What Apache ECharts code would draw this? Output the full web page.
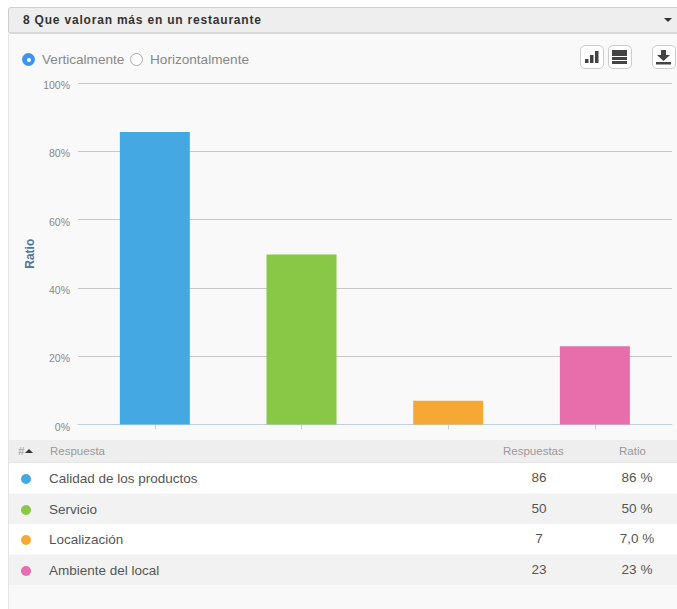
<!DOCTYPE html>
<html><head><meta charset="utf-8">
<script src="https://cdn.jsdelivr.net/npm/echarts@6/dist/echarts.min.js"></script>
<style>
html,body{margin:0;padding:0;background:#fff;width:677px;height:609px;overflow:hidden;font-family:"Liberation Sans",Arial,sans-serif}
.abs{position:absolute;white-space:nowrap}
#panel{left:8px;top:34px;width:669px;height:575px;background:#f9f9f9;border-left:1px solid #e4e4e4;box-sizing:border-box}
#head{left:8px;top:7px;width:680px;height:27px;background:#eeeeee;border:1px solid #cfcfcf;border-bottom:2px solid #d8d8d8;border-radius:3px;box-sizing:border-box}
#title{left:23px;top:13px;font-size:12px;font-weight:bold;color:#333;letter-spacing:.8px;line-height:15px}
#caret{left:664px;top:18px;width:0;height:0;border-left:4px solid transparent;border-right:4px solid transparent;border-top:4px solid #333}
.radio{width:13px;height:13px;border-radius:50%;box-sizing:border-box}
.rl{font-size:13.6px;color:#888;line-height:16px;top:52px}
.btn{top:45px;width:24px;height:24px;background:#fff;border:1px solid #ccc;border-radius:5px;box-sizing:border-box}
#chart{left:0;top:0;width:677px;height:440px}
.row{left:9px;width:668px;box-sizing:border-box}
.th{font-size:11.5px;color:#999;line-height:14px;top:444px}
.td{font-size:13.5px;color:#555;line-height:16px}
.dot{width:10px;height:10px;border-radius:50%;left:21px}
</style></head><body>
<div class="abs" id="panel"></div>
<div class="abs" id="head"></div>
<div class="abs" id="title"></div>
<div class="abs" id="caret"></div>
<div class="abs radio" style="left:22px;top:53px;background:#3b93f3"><div style="width:4px;height:4px;background:#fff;border-radius:50%;margin:4.5px"></div></div>
<div class="abs rl" style="left:42px">Verticalmente</div>
<div class="abs radio" style="left:130px;top:53px;background:#fff;border:1px solid #aaa"></div>
<div class="abs rl" style="left:150px">Horizontalmente</div>
<div class="abs btn" style="left:580px"><svg width="22" height="22"><g fill="#444"><rect x="4" y="13" width="3.500" height="4"/><rect x="9" y="9" width="3.500" height="8"/><rect x="14" y="5" width="3.500" height="12"/></g></svg></div>
<div class="abs btn" style="left:608px"><svg width="22" height="22"><g fill="#444"><rect x="3" y="4" width="15" height="6"/><rect x="3" y="11" width="15" height="3"/><rect x="3" y="15" width="15" height="3"/></g></svg></div>
<div class="abs btn" style="left:652px"><svg width="22" height="22"><g fill="#444"><path d="M8 4h5v5h4l-6.500 6-6.500-6h4z"/><rect x="3" y="16" width="15" height="2.500"/></g></svg></div>
<div class="abs" id="chart"></div>
<div id="table"></div>
<script>
const titleText = "8 Que valoran más en un restaurante";
const categories = ["Calidad de los productos", "Servicio", "Localización", "Ambiente del local"];
const responses = [86, 50, 7, 23];
const ratios = [86, 50, 7, 23];
const ratioLabels = ["86 %", "50 %", "7,0 %", "23 %"];
const colors = ["#44a9e3", "#88c846", "#f5a832", "#e76dab"];
const yTicks = [0, 20, 40, 60, 80, 100];
const headers = ["#", "Respuesta", "Respuestas", "Ratio"];

document.getElementById('title').textContent = titleText;

let h = '<div class="abs row" style="top:440px;height:23px;background:#eeeeee;border-bottom:1px solid #e6e6e6"></div>';
h += `<div class="abs th" style="left:18px;font-style:italic">${headers[0]}</div><div class="abs" style="left:25px;top:449px;width:0;height:0;border-left:4px solid transparent;border-right:4px solid transparent;border-bottom:4px solid #333"></div>`;
h += `<div class="abs th" style="left:50px">${headers[1]}</div><div class="abs th" style="left:503px">${headers[2]}</div><div class="abs th" style="left:619px">${headers[3]}</div>`;
const tops = [463, 494, 524, 555];
categories.forEach((c, i) => {
  const t = tops[i];
  h += `<div class="abs row" style="top:${t}px;height:30px;background:${i % 2 ? '#f2f2f2' : '#fff'}"></div>`;
  h += `<div class="abs dot" style="top:${t + 11}px;background:${colors[i]}"></div>`;
  h += `<div class="abs td" style="left:49px;top:${t + 8}px">${c}</div>`;
  h += `<div class="abs td" style="left:479px;width:120px;text-align:center;top:${t + 7}px">${responses[i]}</div>`;
  h += `<div class="abs td" style="left:577px;width:120px;text-align:center;top:${t + 7}px">${ratioLabels[i]}</div>`;
});
document.getElementById('table').innerHTML = h;

const chart = echarts.init(document.getElementById('chart'), null, {renderer: 'svg'});
chart.setOption({
  animation: false,
  grid: [
    {left: 78, width: 594, top: 83, height: 341.5},
    {left: 81.500, width: 586.700, top: 84.5, height: 340}
  ],
  xAxis: [
    {gridIndex: 0, type: 'value', min: 0, max: 1, show: true, splitLine: {show: false}, axisTick: {show: false}, axisLabel: {show: false},
     axisLine: {show: true, onZero: false, lineStyle: {color: '#c0d0e0', width: 1}}},
    {gridIndex: 1, type: 'category', data: categories, axisLine: {show: false}, axisLabel: {show: false},
     axisTick: {show: true, interval: 0, alignWithLabel: true, length: 5, lineStyle: {color: '#c0d0e0'}}}
  ],
  yAxis: [
    {gridIndex: 0, type: 'value', min: 0, max: 100, interval: 20,
     name: 'Ratio', nameLocation: 'middle', nameGap: 42, nameMoveOverlap: false, nameTextStyle: {color: '#4d759e', fontSize: 12, fontWeight: 'bold', fontFamily: 'Liberation Sans'},
     axisLine: {show: false}, axisTick: {show: false},
     axisLabel: {formatter: v => yTicks.includes(v) ? v + '%' : '', color: '#888', fontSize: 10.5, fontFamily: 'Liberation Sans', margin: 8, verticalAlign: 'top', lineHeight: 4},
     splitLine: {show: true, lineStyle: {color: '#c8c8c8', width: 1}, showMinLine: false}},
    {gridIndex: 1, type: 'value', min: 0, max: 100, show: false}
  ],
  series: [{
    type: 'bar', xAxisIndex: 1, yAxisIndex: 1, barWidth: 70,
    data: ratios.map((v, i) => ({value: v, itemStyle: {color: colors[i]}}))
  }]
});
</script>
</body></html>
